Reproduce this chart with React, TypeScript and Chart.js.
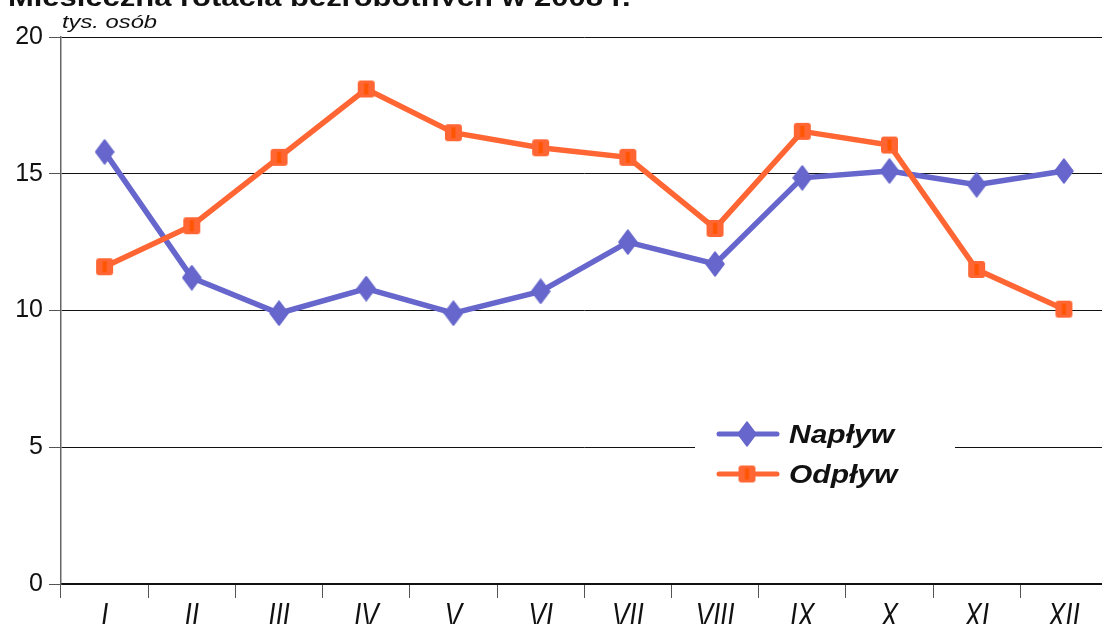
import React, { useEffect, useRef } from "react";
import { Chart, registerables } from "chart.js";

Chart.register(...registerables);

const title = "Miesięczna rotacja bezrobotnych w 2008 r.";
const unitLabel = "tys. osób";
const months = ["I", "II", "III", "IV", "V", "VI", "VII", "VIII", "IX", "X", "XI", "XII"];
const seriesNames = ["Napływ", "Odpływ"];
const naplyw = [15.8, 11.2, 9.9, 10.8, 9.9, 10.7, 12.5, 11.7, 14.85, 15.1, 14.6, 15.1];
const odplyw = [11.6, 13.1, 15.6, 18.1, 16.5, 15.95, 15.6, 13.0, 16.55, 16.05, 11.5, 10.05];
const yMin = 0;
const yMax = 20;
const yStep = 5;

const BLUE = "#6666CC";
const ORANGE = "#FF6633";
const FONT = "'Liberation Sans', Arial, sans-serif";

function makeDiamond(): HTMLCanvasElement {
  const c = document.createElement("canvas");
  c.width = 20;
  c.height = 26;
  const g = c.getContext("2d")!;
  g.fillStyle = BLUE;
  g.strokeStyle = BLUE;
  g.lineJoin = "round";
  g.lineWidth = 1.5;
  g.beginPath();
  g.moveTo(10, 1);
  g.lineTo(19, 13);
  g.lineTo(10, 25);
  g.lineTo(1, 13);
  g.closePath();
  g.fill();
  g.stroke();
  return c;
}

function makeSquare(): HTMLCanvasElement {
  const c = document.createElement("canvas");
  c.width = 19;
  c.height = 19;
  const g = c.getContext("2d")!;
  g.fillStyle = ORANGE;
  g.beginPath();
  (g as any).roundRect ? (g as any).roundRect(1, 1, 17, 17, 3) : g.rect(1, 1, 17, 17);
  g.fill();
  g.fillStyle = "#FF5500";
  g.fillRect(7.5, 4, 4, 11);
  return c;
}

function stretchedText(ctx: CanvasRenderingContext2D, text: string, x: number, y: number, sx: number, align: CanvasTextAlign = "left") {
  ctx.save();
  ctx.translate(x, y);
  ctx.scale(sx, 1);
  ctx.textAlign = align;
  ctx.fillText(text, 0, 0);
  ctx.restore();
}

export default function App() {
  const ref = useRef<HTMLCanvasElement | null>(null);

  useEffect(() => {
    if (!ref.current) return;
    document.body.style.overflow = "hidden";
    const diamond = makeDiamond();
    const square = makeSquare();

    const overlay = {
      id: "overlay",
      afterDraw(chart: any) {
        const ctx = chart.ctx as CanvasRenderingContext2D;
        const area = chart.chartArea;
        const xScale = chart.scales.x;
        ctx.save();
        ctx.fillStyle = "#111";
        ctx.textBaseline = "alphabetic";

        // title (only its lower part is visible)
        ctx.save();
        ctx.beginPath();
        ctx.rect(0, 0, chart.width, 6);
        ctx.clip();
        ctx.font = `bold 26px ${FONT}`;
        stretchedText(ctx, title, 8, 6, 1.19);
        ctx.restore();

        // unit label
        ctx.font = `italic 19px ${FONT}`;
        stretchedText(ctx, unitLabel, area.left + 1, 28, 1.25);

        // x category labels (narrow italic)
        ctx.font = `italic 35px ${FONT}`;
        months.forEach((m, i) => {
          stretchedText(ctx, m, xScale.getPixelForValue(i), 627, 0.74, "center");
        });

        // legend box
        const bx = area.left + 634;
        const by = area.top + 378;
        ctx.fillStyle = "#fff";
        ctx.fillRect(bx, by, 260, 82);
        const rows = [
          { name: seriesNames[0], color: BLUE, img: diamond, y: by + 19 },
          { name: seriesNames[1], color: ORANGE, img: square, y: by + 59 },
        ];
        for (const r of rows) {
          ctx.strokeStyle = r.color;
          ctx.lineWidth = 5;
          ctx.lineCap = "round";
          ctx.beginPath();
          ctx.moveTo(bx + 24, r.y);
          ctx.lineTo(bx + 82, r.y);
          ctx.stroke();
          ctx.drawImage(r.img, bx + 52 - r.img.width / 2, r.y - r.img.height / 2);
          ctx.fillStyle = "#111";
          ctx.font = `italic bold 25px ${FONT}`;
          ctx.textBaseline = "alphabetic";
          stretchedText(ctx, r.name, bx + 94, r.y + 9, 1.2);
        }
        ctx.restore();
      },
    };

    const chart = new Chart(ref.current, {
      type: "line",
      data: {
        labels: months,
        datasets: [
          {
            label: seriesNames[0],
            data: naplyw,
            borderColor: BLUE,
            backgroundColor: BLUE,
            borderWidth: 5.5,
            pointStyle: diamond as any,
            pointRadius: 10,
            tension: 0,
            order: 1,
          },
          {
            label: seriesNames[1],
            data: odplyw,
            borderColor: ORANGE,
            backgroundColor: ORANGE,
            borderWidth: 5.5,
            pointStyle: square as any,
            pointRadius: 9,
            tension: 0,
            order: 0,
          },
        ],
      },
      options: {
        responsive: false,
        animation: false,
        events: [],
        layout: { padding: { top: 37, right: 2, left: 0, bottom: 0 } },
        plugins: {
          legend: { display: false },
          tooltip: { enabled: false },
          title: { display: false },
        },
        scales: {
          x: {
            type: "category",
            offset: true,
            grid: {
              offset: true,
              drawOnChartArea: false,
              drawTicks: true,
              tickLength: 14,
              tickColor: "#555",
              lineWidth: 1,
            },
            border: { display: true, color: "#111", width: 2 },
            ticks: { display: false },
            afterFit(scale: any) {
              scale.height = 40;
            },
          },
          y: {
            min: yMin,
            max: yMax,
            grid: {
              color: "#111",
              lineWidth: 1,
              drawTicks: true,
              tickLength: 12,
              tickColor: "#555",
            },
            border: { display: true, color: "#666", width: 1.5 },
            ticks: {
              stepSize: yStep,
              color: "#111",
              padding: 6,
              font: { family: FONT, size: 25 },
            },
            afterFit(scale: any) {
              scale.width = 61;
            },
          },
        },
      },
      plugins: [overlay],
    });
    return () => chart.destroy();
  }, []);

  return (
    <div
      style={{
        position: "absolute",
        left: 0,
        top: 0,
        width: 1102,
        height: 624,
        overflow: "hidden",
        background: "#fff",
      }}
    >
      <canvas ref={ref} width={1123} height={624} style={{ width: 1123, height: 624, display: "block" }} />
    </div>
  );
}
